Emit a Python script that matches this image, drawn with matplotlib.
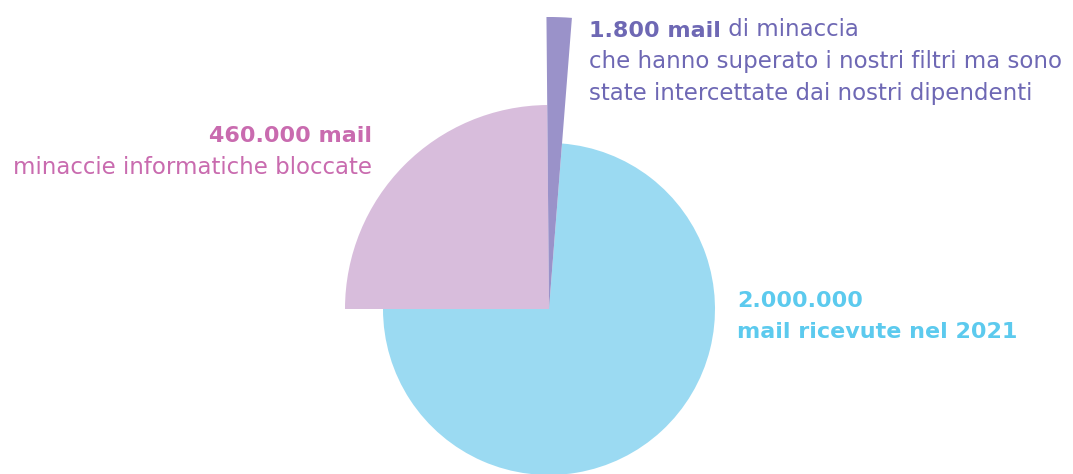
import matplotlib.pyplot as plt

# wedge shares as drawn (degrees of the circle) and their radii in pixels
labels = ["ricevute", "superato filtri", "bloccate"]
shares = [265.5, 5, 89.5]
radii = [166, 292, 204]
colors = ["#9bdaf2", "#9a92c9", "#d8bddc"]

W, H = 1073, 474
cx, cy = 549, H - 309

fig = plt.figure(figsize=(W / 100, H / 100), dpi=100)
ax = fig.add_axes([0, 0, 1, 1])

wedges, _ = ax.pie(shares, colors=colors, startangle=180, counterclock=True,
                   center=(cx, cy), radius=1, frame=True,
                   wedgeprops=dict(linewidth=0))
for w, r in zip(wedges, radii):
    w.set_radius(r)
# purple sliver on top
wedges[1].set_zorder(5)

ax.set_xlim(0, W)
ax.set_ylim(0, H)
ax.set_aspect("equal")
ax.axis("off")

font = "DejaVu Sans"
fs = 16.5
fsb = 16
purple = "#6e68b4"
pink = "#c96baf"
blue = "#5ccaee"

# purple label
t = ax.text(589, H - 37, "1.800 mail", color=purple, fontsize=fsb, fontweight="bold",
            family=font, ha="left", va="baseline")
ax.annotate(" di minaccia", xy=(1, 0), xycoords=t, color=purple, fontsize=fs,
            family=font, ha="left", va="bottom")
ax.text(589, H - 68, "che hanno superato i nostri filtri ma sono", color=purple,
        fontsize=fs, family=font, ha="left", va="baseline")
ax.text(589, H - 100, "state intercettate dai nostri dipendenti", color=purple,
        fontsize=fs, family=font, ha="left", va="baseline")

# pink label
ax.text(372, H - 142, "460.000 mail", color=pink, fontsize=fsb, fontweight="bold",
        family=font, ha="right", va="baseline")
ax.text(372, H - 174, "minaccie informatiche bloccate", color=pink, fontsize=fs,
        family=font, ha="right", va="baseline")

# blue label
ax.text(737, H - 307, "2.000.000", color=blue, fontsize=fsb, fontweight="bold",
        family=font, ha="left", va="baseline")
ax.text(737, H - 338, "mail ricevute nel 2021", color=blue, fontsize=fsb,
        fontweight="bold", family=font, ha="left", va="baseline")

fig.savefig("out.png", dpi=100)
